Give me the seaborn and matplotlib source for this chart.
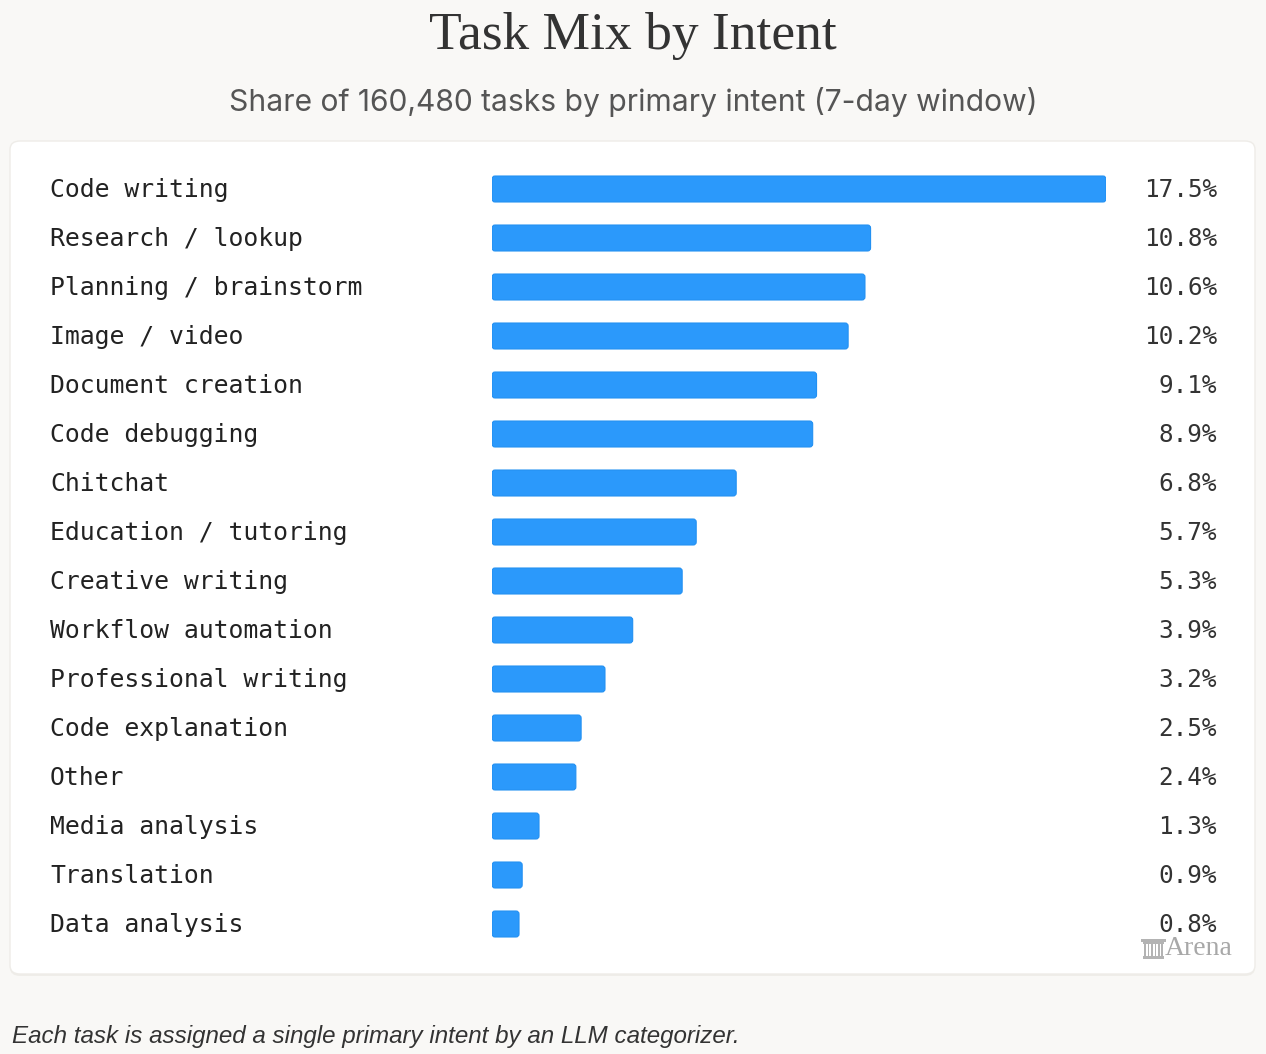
import matplotlib
matplotlib.use("Agg")
import matplotlib.pyplot as plt
import matplotlib.transforms as mtransforms
from matplotlib.patches import FancyBboxPatch, Rectangle
import seaborn as sns
import pandas as pd

categories = ["Code writing", "Research / lookup", "Planning / brainstorm", "Image / video",
              "Document creation", "Code debugging", "Chitchat", "Education / tutoring",
              "Creative writing", "Workflow automation", "Professional writing",
              "Code explanation", "Other", "Media analysis", "Translation", "Data analysis"]
# bar lengths as drawn in the picture (percent)
shares = [17.5, 10.79, 10.63, 10.15, 9.25, 9.14, 6.96, 5.82, 5.42, 4.01, 3.22,
          2.54, 2.39, 1.34, 0.86, 0.77]
# labels printed beside each bar
value_labels = ["17.5%", "10.8%", "10.6%", "10.2%", "9.1%", "8.9%", "6.8%", "5.7%",
                "5.3%", "3.9%", "3.2%", "2.5%", "2.4%", "1.3%", "0.9%", "0.8%"]

title = "Task Mix by Intent"
subtitle = "Share of 160,480 tasks by primary intent (7-day window)"
footer = "Each task is assigned a single primary intent by an LLM categorizer."
brand = "Arena"

df = pd.DataFrame({"intent": categories, "share": shares})

sns.set_theme(style="white")
W, H = 1266, 1054
fig = plt.figure(figsize=(W / 100, H / 100), dpi=100)
fig.patch.set_facecolor("#f9f8f6")

def fx(px):
    return px / W

def fy(py):
    return 1 - py / H

# card shadow + card
shadow = FancyBboxPatch((fx(10), fy(976)), fx(1255) - fx(10), fy(143) - fy(976),
                        boxstyle="round,pad=0,rounding_size=0.008",
                        transform=fig.transFigure, facecolor="#efede9",
                        edgecolor="none", zorder=-6)
fig.patches.append(shadow)
card = FancyBboxPatch((fx(10), fy(974)), fx(1255) - fx(10), fy(141) - fy(974),
                      boxstyle="round,pad=0,rounding_size=0.008",
                      transform=fig.transFigure, facecolor="white",
                      edgecolor="#eeece8", linewidth=1.0, zorder=-5)
fig.patches.append(card)

ax = fig.add_axes([fx(492), fy(948.5), fx(1106) - fx(492), fy(164.5) - fy(948.5)])
ax.set_zorder(2)
ax.set_facecolor("none")
sns.barplot(data=df, x="share", y="intent", orient="h", color="#2b99fb",
            width=0.53, ax=ax, saturation=1)
ax.set_xlim(0, 17.5)
ax.set_ylim(len(categories) - 0.5, -0.5)
ax.axis("off")

# round the bar corners
px_x = 614 / 17.5   # pixels per x unit
px_y = 49.0         # pixels per y unit
r_x = 3.0 / px_x
aspect = (3.0 / px_y) / r_x
for p in list(ax.patches):
    x0, y0 = p.get_x(), p.get_y()
    w, h = p.get_width(), p.get_height()
    fb = FancyBboxPatch((x0, y0), w, h,
                        boxstyle=f"round,pad=0,rounding_size={min(r_x, w / 2):.4f}",
                        mutation_aspect=aspect, facecolor="#2b99fb",
                        edgecolor="#2290f2", linewidth=0.8)
    p.remove()
    ax.add_patch(fb)

trans = mtransforms.blended_transform_factory(fig.transFigure, ax.transData)
mono = "DejaVu Sans Mono"
for i, (c, v) in enumerate(zip(categories, value_labels)):
    ax.text(fx(50), i + 0.03, c, transform=trans, ha="left", va="center",
            family=mono, fontsize=17.8, color="#222222", clip_on=False)
    ax.text(fx(1217), i + 0.03, v, transform=trans, ha="right", va="center",
            family=mono, fontsize=17.6, color="#333333", clip_on=False)

fig.text(0.5, fy(36), title, ha="center", va="center", family="Liberation Serif",
         fontsize=38.5, color="#333333")
fig.text(0.5, fy(102), subtitle, ha="center", va="center", family="Inter",
         fontsize=21.6, color="#555555")
fig.text(fx(12), fy(1036), footer, ha="left", va="center", family="Liberation Sans",
         style="italic", fontsize=17.35, color="#333333")
fig.text(fx(1233), fy(948.5), brand, ha="right", va="center", family="Liberation Serif",
         fontsize=20, color="#a8a8a8")

# small column icon beside the brand name
icol = "#b3b3b3"
def frect(x0, y0, x1, y1):
    fig.patches.append(Rectangle((fx(x0), fy(y1)), fx(x1) - fx(x0), fy(y0) - fy(y1),
                                 transform=fig.transFigure, facecolor=icol,
                                 edgecolor="none", zorder=3))
frect(1141, 939, 1166, 942)
frect(1143, 942, 1164, 944)
for xc in [1145, 1148.5, 1152, 1155.5, 1159, 1162]:
    frect(xc - 0.8, 944, xc + 0.8, 956)
frect(1143, 956, 1164, 959)

fig.savefig("out.png", dpi=100, facecolor=fig.get_facecolor())
